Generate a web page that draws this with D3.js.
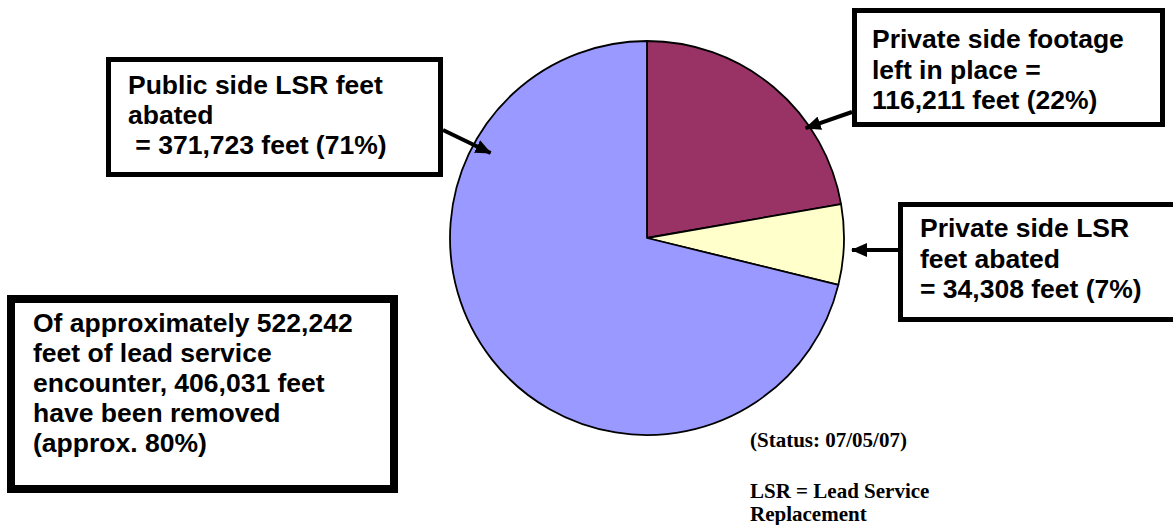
<!DOCTYPE html>
<html>
<head>
<meta charset="utf-8">
<script src="https://cdn.jsdelivr.net/npm/d3@7"></script>
<style>
  html, body { margin: 0; padding: 0; background: #fff; }
  svg { display: block; }
  .box text { font-family: Arial, "Liberation Sans", sans-serif; font-weight: bold; font-size: 26.5px; fill: #000; white-space: pre; }
  .note { font-family: "Times New Roman", "Liberation Serif", serif; font-weight: bold; font-size: 21px; fill: #000; }
</style>
</head>
<body>
<script>
// ---- data ----
const categories = ["Private side footage left in place", "Private side LSR feet abated", "Public side LSR feet abated"];
const values = [116211, 34308, 371723];
const colors = ["#993366", "#FFFFCC", "#9999FF"];
const labelFootage = ["Private side footage", "left in place =", "116,211 feet (22%)"];
const labelPrivateLSR = ["Private side LSR", "feet abated", "= 34,308 feet (7%)"];
const labelPublic = ["Public side LSR feet", "abated", " = 371,723 feet (71%)"];
const labelSummary = ["Of approximately 522,242", "feet of lead service", "encounter, 406,031 feet", "have been removed", "(approx. 80%)"];
const notes = ["(Status: 07/05/07)", "LSR = Lead Service", "Replacement"];

const W = 1173, H = 525;
const svg = d3.select("body").append("svg").attr("width", W).attr("height", H);

const cx = 647, cy = 238, R = 197;

const pie = d3.pie().sort(null).value(d => d).startAngle(0).endAngle(2 * Math.PI);
const arc = d3.arc().innerRadius(0).outerRadius(R);
const arcs = pie(values);

const g = svg.append("g").attr("transform", `translate(${cx},${cy})`);
g.selectAll("path").data(arcs).join("path")
  .attr("d", arc)
  .attr("fill", (d, i) => colors[i])
  .attr("stroke", "#000")
  .attr("stroke-width", 1.8)
  .attr("stroke-linejoin", "round");

// arrow marker
const defs = svg.append("defs");
defs.append("marker")
  .attr("id", "ah").attr("markerUnits", "userSpaceOnUse")
  .attr("viewBox", "0 0 16 14").attr("refX", 15).attr("refY", 7)
  .attr("markerWidth", 16).attr("markerHeight", 14).attr("orient", "auto")
  .append("path").attr("d", "M0,0 L16,7 L0,14 Z").attr("fill", "#000");

function box(x0, y0, x1, y1, sw, lines, tx, ty0, lh) {
  const b = svg.append("g").attr("class", "box");
  b.append("rect")
    .attr("x", x0 + sw / 2).attr("y", y0 + sw / 2)
    .attr("width", x1 - x0 - sw).attr("height", y1 - y0 - sw)
    .attr("fill", "#fff").attr("stroke", "#000").attr("stroke-width", sw);
  b.selectAll("text").data(lines).join("text")
    .attr("x", tx).attr("y", (d, i) => ty0 + i * lh)
    .text(d => d);
}

function arrow(x0, y0, x1, y1) {
  svg.append("line")
    .attr("x1", x0).attr("y1", y0).attr("x2", x1).attr("y2", y1)
    .attr("stroke", "#000").attr("stroke-width", 4)
    .attr("marker-end", "url(#ah)");
}

// polar helper relative to pie centre (angle clockwise from 12 o'clock, degrees)
function polar(deg, r) {
  const a = deg * Math.PI / 180;
  return [cx + r * Math.sin(a), cy - r * Math.cos(a)];
}

// boxes
box(106, 57, 443, 177, 5, labelPublic, 128, 94, 30);
box(852, 8, 1165, 127, 5, labelFootage, 872, 48, 30.5);
box(898, 202, 1185, 322, 5, labelPrivateLSR, 920, 237, 30.5);
box(7, 295, 398, 493, 8, labelSummary, 33, 332, 30);

// arrows
const tPub = polar(-61.5, 178);
arrow(443, 130, tPub[0], tPub[1]);
const tFoot = polar(55.3, 193);
arrow(852, 112, tFoot[0], tFoot[1]);
arrow(898, 250, 852, 250);

// notes
svg.selectAll("text.note").data(notes).join("text")
  .attr("class", "note")
  .attr("x", 750)
  .attr("y", (d, i) => [447, 498, 521][i])
  .text(d => d);
</script>
</body>
</html>
